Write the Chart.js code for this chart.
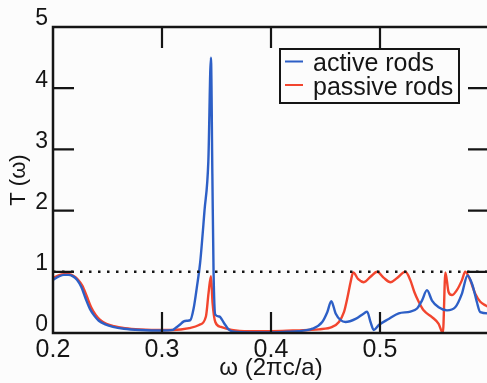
<!DOCTYPE html>
<html>
<head>
<meta charset="utf-8">
<script src="https://cdn.jsdelivr.net/npm/chart.js@4"></script>
<style>
  html, body { margin: 0; padding: 0; overflow: hidden; background: #fcfcfc; }
  canvas { display: block; }
</style>
</head>
<body>
<canvas id="spectrum" width="491" height="383"></canvas>
<script>
// transmission spectra, T(ω) against ω in units of 2πc/a
const freqActive = [
  0.200, 0.205, 0.210, 0.214, 0.218, 0.222, 0.226, 0.230, 0.234, 0.238,
  0.242, 0.248, 0.255, 0.265, 0.280, 0.300, 0.310, 0.313, 0.316, 0.320,
  0.323, 0.326, 0.329, 0.332, 0.335, 0.339, 0.3425, 0.3449, 0.3462, 0.3473,
  0.3489, 0.3525, 0.357, 0.361, 0.366, 0.380, 0.400, 0.415, 0.425, 0.438,
  0.447, 0.4516, 0.4553, 0.4593, 0.4639, 0.4684, 0.4776, 0.4852, 0.4882, 0.4913,
  0.4943, 0.4989, 0.508, 0.5172, 0.5279, 0.534, 0.5385, 0.5431, 0.5477, 0.5538,
  0.5614, 0.569, 0.5751, 0.5803, 0.5849, 0.5888, 0.592, 0.600
];
const transActive = [
  0.87, 0.92, 0.95, 0.95, 0.93, 0.87, 0.75, 0.56, 0.39, 0.28,
  0.20, 0.14, 0.10, 0.07, 0.05, 0.04, 0.05, 0.09, 0.13, 0.19,
  0.20, 0.21, 0.40, 0.75, 1.15, 2.00, 2.80, 4.50, 2.60, 1.00,
  0.30, 0.27, 0.16, 0.06, 0.02, 0.01, 0.01, 0.02, 0.03, 0.07,
  0.18, 0.34, 0.52, 0.32, 0.21, 0.18, 0.23, 0.32, 0.35, 0.18,
  0.05, 0.13, 0.23, 0.32, 0.35, 0.40, 0.53, 0.70, 0.53, 0.42,
  0.37, 0.42, 0.64, 0.94, 0.78, 0.51, 0.34, 0.32
];

const freqPassive = [
  0.200, 0.205, 0.210, 0.215, 0.219, 0.223, 0.227, 0.231, 0.235, 0.239,
  0.243, 0.249, 0.256, 0.266, 0.280, 0.300, 0.310, 0.325, 0.334, 0.3403,
  0.3427, 0.3449, 0.3464, 0.3489, 0.354, 0.364, 0.380, 0.400, 0.420, 0.435,
  0.444, 0.4562, 0.4623, 0.4669, 0.4699, 0.473, 0.4754, 0.480, 0.4852, 0.4913,
  0.4974, 0.5035, 0.5096, 0.5157, 0.5233, 0.5279, 0.5315, 0.5355, 0.540, 0.5477,
  0.5538, 0.5577, 0.560, 0.5629, 0.566, 0.5705, 0.5751, 0.5782, 0.5828, 0.5874,
  0.592, 0.597, 0.600
];
const transPassive = [
  0.90, 0.94, 0.96, 0.96, 0.93, 0.87, 0.77, 0.60, 0.42, 0.30,
  0.22, 0.15, 0.11, 0.08, 0.06, 0.05, 0.05, 0.08, 0.13, 0.27,
  0.65, 0.93, 0.49, 0.18, 0.10, 0.05, 0.03, 0.03, 0.04, 0.05,
  0.06, 0.10, 0.18, 0.34, 0.56, 0.83, 0.99, 0.88, 0.83, 0.92,
  1.00, 0.90, 0.83, 0.90, 1.00, 0.86, 0.67, 0.51, 0.37, 0.26,
  0.15, 0.00, 0.99, 0.67, 0.62, 0.70, 0.86, 1.00, 0.86, 0.64,
  0.51, 0.45, 0.42
];

// T = 1 reference level
const unityFreq = [0.2, 0.6];
const unityLevel = [1, 1];

const seriesLabels = ['active rods', 'passive rods'];
const seriesColors = ['#2d5fc6', '#f2452e'];

// inward tick marks on the frame
const freqTickMarks = [0.3, 0.4, 0.5];
const transTickMarks = [1, 2, 3, 4];

const toPoints = (xs, ys) => xs.map((x, i) => ({ x, y: ys[i] }));

Chart.defaults.font.family = "'Liberation Sans', Arial, sans-serif";
Chart.defaults.color = '#151515';

// black box round the plot with ticks pointing into it
const framePlugin = {
  id: 'frame',
  afterDatasetsDraw(chart) {
    const { ctx, chartArea: a, scales } = chart;
    const len = 21;
    ctx.save();
    ctx.strokeStyle = '#151515';
    ctx.lineWidth = 2.2;
    ctx.beginPath();
    freqTickMarks.forEach(v => {
      const px = scales.x.getPixelForValue(v);
      ctx.moveTo(px, a.bottom); ctx.lineTo(px, a.bottom - len);
      ctx.moveTo(px, a.top); ctx.lineTo(px, a.top + len);
    });
    transTickMarks.forEach(v => {
      const py = scales.y.getPixelForValue(v);
      ctx.moveTo(a.left, py); ctx.lineTo(a.left + len, py);
      ctx.moveTo(a.right, py); ctx.lineTo(a.right - len, py);
    });
    ctx.stroke();
    ctx.lineWidth = 2.5;
    ctx.strokeRect(a.left, a.top, a.right - a.left, a.bottom - a.top);
    ctx.restore();
  }
};

// boxed legend in the upper right of the plot
const legendBoxPlugin = {
  id: 'legendBox',
  afterDraw(chart) {
    const { ctx, chartArea: a } = chart;
    const x0 = a.right - 209, y0 = a.top + 22, w = 179, h = 54;
    ctx.save();
    ctx.fillStyle = '#fcfcfc';
    ctx.fillRect(x0, y0, w, h);
    ctx.strokeStyle = '#151515';
    ctx.lineWidth = 2;
    ctx.strokeRect(x0, y0, w, h);
    ctx.font = "25px 'Liberation Sans', Arial, sans-serif";
    ctx.textBaseline = 'alphabetic';
    seriesLabels.forEach((label, i) => {
      const base = y0 + 22 + i * 23.5;
      ctx.strokeStyle = seriesColors[i];
      ctx.lineWidth = 2;
      ctx.beginPath();
      ctx.moveTo(x0 + 5, base - 9.5);
      ctx.lineTo(x0 + 23, base - 9.5);
      ctx.stroke();
      ctx.fillStyle = '#151515';
      ctx.fillText(label, x0 + 33, base);
    });
    ctx.restore();
  }
};

new Chart(document.getElementById('spectrum'), {
  type: 'line',
  data: {
    datasets: [
      {
        label: 'T = 1',
        data: toPoints(unityFreq, unityLevel),
        borderColor: '#151515',
        borderWidth: 2.5,
        borderDash: [2.5, 6.5],
        pointRadius: 0
      },
      {
        label: seriesLabels[0],
        data: toPoints(freqActive, transActive),
        borderColor: seriesColors[0],
        borderWidth: 2.4,
        pointRadius: 0,
        cubicInterpolationMode: 'monotone'
      },
      {
        label: seriesLabels[1],
        data: toPoints(freqPassive, transPassive),
        borderColor: seriesColors[1],
        borderWidth: 2.4,
        pointRadius: 0,
        cubicInterpolationMode: 'monotone'
      }
    ]
  },
  options: {
    responsive: false,
    animation: false,
    layout: { padding: { top: 27, right: 0, bottom: 0, left: 0 } },
    plugins: { legend: { display: false }, tooltip: { enabled: false } },
    scales: {
      x: {
        type: 'linear',
        min: 0.2,
        max: 0.6,
        afterFit: s => { s.height = 50; },
        grid: { display: false, drawTicks: false },
        border: { display: false },
        ticks: {
          stepSize: 0.1,
          autoSkip: false,
          maxRotation: 0,
          padding: 2,
          font: { size: 25 },
          callback: v => (v > 0.55 ? '' : v.toFixed(1))
        },
        title: {
          display: true,
          text: 'ω (2πc/a)',
          font: { size: 24 },
          padding: { top: 0, bottom: 0 }
        }
      },
      y: {
        min: 0,
        max: 5,
        afterFit: s => { s.width = 53; },
        grid: { display: false, drawTicks: false },
        border: { display: false },
        ticks: {
          stepSize: 1,
          padding: 5,
          labelOffset: -8,
          font: { size: 23 }
        },
        title: {
          display: true,
          text: 'T (ω)',
          font: { size: 22 },
          padding: { top: 6, bottom: 0 }
        }
      }
    }
  },
  plugins: [framePlugin, legendBoxPlugin]
});
</script>
</body>
</html>
